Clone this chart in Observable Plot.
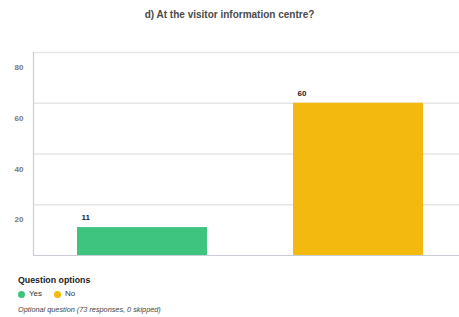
<!DOCTYPE html>
<html>
<head>
<meta charset="utf-8">
<script src="https://cdn.jsdelivr.net/npm/d3@7"></script>
<script src="https://cdn.jsdelivr.net/npm/@observablehq/plot@0.6"></script>
<style>
  html, body { margin: 0; padding: 0; background: #fff; }
  body { width: 459px; height: 317px; overflow: hidden; font-family: "Liberation Sans", Arial, sans-serif; position: relative; }
  #title { position: absolute; left: 0; top: 9px; width: 459px; text-align: center; font-weight: bold; font-size: 10px; color: #4a4a4a; line-height: 12px; }
  #chart { position: absolute; left: 0; top: 30px; }
  #legend { position: absolute; left: 18px; top: 275px; }
  #legend .lt { font-weight: bold; font-size: 8.8px; color: #222; line-height: 11px; }
  #legend .items { margin-top: 3px; font-size: 8px; color: #333; line-height: 10px; display: flex; align-items: center; }
  #legend .dot { display: inline-block; width: 7px; height: 7px; border-radius: 50%; margin-right: 4px; }
  #legend .item { display: flex; align-items: center; margin-right: 12px; }
  #legend .cap { margin-top: 6px; font-size: 7.3px; font-style: italic; color: #444; line-height: 9px; }
</style>
</head>
<body>
<div id="title"></div>
<div id="chart"></div>
<div id="legend"></div>
<script>
const titleText = "d) At the visitor information centre?";
const categories = ["Yes", "No"];
const counts = [11, 60];
const colors = ["#3ec47e", "#f3b90f"];
const yTicks = [20, 40, 60, 80];
const legendTitle = "Question options";
const caption = "Optional question (73 responses, 0 skipped)";

const data = categories.map((c, i) => ({category: c, count: counts[i]}));

document.getElementById("title").textContent = titleText;

const plot = Plot.plot({
  width: 459,
  height: 238,
  marginTop: 22,
  marginBottom: 13,
  marginLeft: 33,
  marginRight: 0,
  style: {fontFamily: "Liberation Sans, Arial, sans-serif", background: "transparent"},
  x: {domain: categories, paddingInner: 0.398, paddingOuter: 0.185, align: 0.55, axis: null, label: null},
  y: {domain: [0, 80], axis: null, label: null},
  color: {domain: categories, range: colors},
  marks: [
    Plot.ruleY(yTicks, {stroke: "#e6e6e6", strokeWidth: 1.5}),
    Plot.barY(data, {x: "category", y: "count", fill: "category"}),
    Plot.ruleY([0], {stroke: "#c9ced6", strokeWidth: 1.2}),
    Plot.frame({anchor: "left", stroke: "#c9ced6", strokeWidth: 1.2}),
    Plot.axisY(yTicks, {tickSize: 0, tickPadding: 10, dy: 15, fontSize: 8, fontWeight: "bold", fill: "#777", label: null}),
    Plot.text(data, {x: "category", y: "count", text: d => String(d.count), dx: -61, dy: -10, textAnchor: "start", fontSize: 8, fontWeight: "bold", fill: "#222"})
  ]
});
document.getElementById("chart").appendChild(plot);

const lg = document.getElementById("legend");
const lt = document.createElement("div"); lt.className = "lt"; lt.textContent = legendTitle; lg.appendChild(lt);
const items = document.createElement("div"); items.className = "items";
categories.forEach((c, i) => {
  const it = document.createElement("span"); it.className = "item";
  const d = document.createElement("span"); d.className = "dot"; d.style.background = colors[i];
  it.appendChild(d); it.appendChild(document.createTextNode(c));
  items.appendChild(it);
});
lg.appendChild(items);
const cap = document.createElement("div"); cap.className = "cap"; cap.textContent = caption; lg.appendChild(cap);
</script>
</body>
</html>
